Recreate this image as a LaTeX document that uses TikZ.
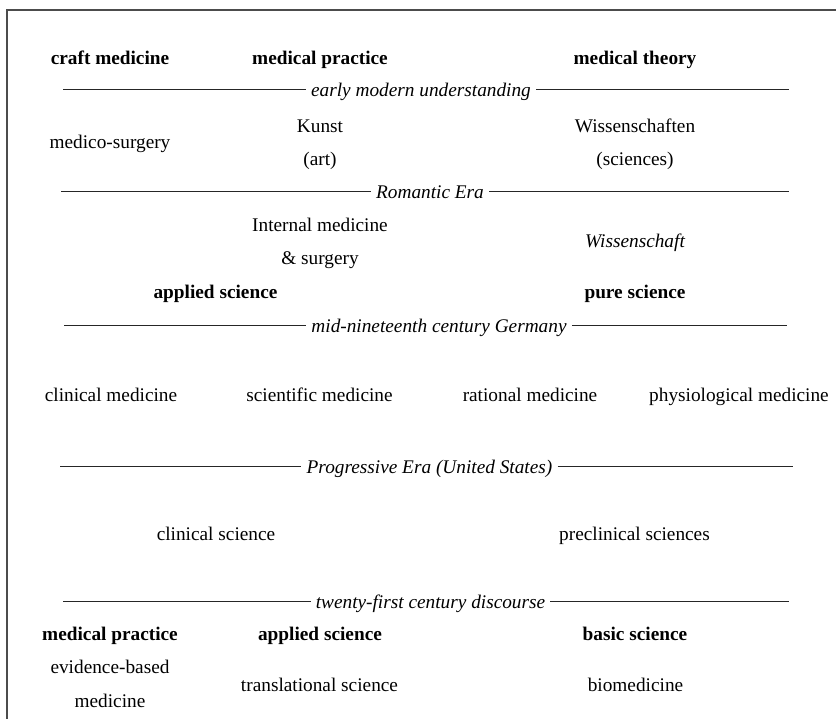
\documentclass[tikz,border=0pt]{standalone}
\usepackage{fontspec}
\setmainfont{Liberation Serif}
\begin{document}
\begin{tikzpicture}[x=1pt,y=-1pt,
  txt/.style={anchor=base,inner sep=0pt,font=\fontsize{19.3}{23}\selectfont},
  hd/.style={txt,font=\fontsize{19.3}{23}\selectfont\bfseries},
  era/.style={anchor=base,inner ysep=0pt,inner xsep=5pt,font=\fontsize{19.3}{23}\selectfont\itshape},
  rule/.style={draw=black!85,line width=1pt},
  frame/.style={draw=black!70,line width=1.6pt}]
\useasboundingbox (0,0) rectangle (836,719);
% frame
\coordinate (ftr) at (836,10);
\coordinate (ftl) at (7,10);
\coordinate (fbl) at (7,719);
\draw[frame] (ftr) -- (ftl) -- (fbl);

% row 1 headers
\node[hd] (h1) at (110,64.5) {craft medicine};
\node[hd] (h2) at (320,64.5) {medical practice};
\node[hd] (h3) at (635,64.5) {medical theory};

% divider 1
\coordinate (d1l) at (63,90);
\coordinate (d1r) at (789,90);
\node[era] (d1) at (421,97) {early modern understanding};
\draw[rule] (d1l) -- (d1l -| d1.west);
\draw[rule] (d1r -| d1.east) -- (d1r);

\node[txt] (a1) at (110,148.5) {medico-surgery};
\node[txt] (a2) at (320,132.5) {Kunst};
\node[txt] (a3) at (320,165.5) {(art)};
\node[txt] (a4) at (635,132.5) {Wissenschaften};
\node[txt] (a5) at (635,165.5) {(sciences)};

% divider 2
\coordinate (d2l) at (61,192);
\coordinate (d2r) at (789,192);
\node[era] (d2) at (430,199) {Romantic Era};
\draw[rule] (d2l) -- (d2l -| d2.west);
\draw[rule] (d2r -| d2.east) -- (d2r);

\node[txt] (b1) at (320,231.5) {Internal medicine};
\node[txt] (b2) at (320,264.5) {\& surgery};
\node[txt,font=\fontsize{19.3}{23}\selectfont\itshape] (b3) at (635,247.5) {Wissenschaft};
\node[hd] (b4) at (215.5,298.5) {applied science};
\node[hd] (b5) at (635,298.5) {pure science};

% divider 3
\coordinate (d3l) at (64,326);
\coordinate (d3r) at (787,326);
\node[era] (d3) at (439,333) {mid-nineteenth century Germany};
\draw[rule] (d3l) -- (d3l -| d3.west);
\draw[rule] (d3r -| d3.east) -- (d3r);

\node[txt] (c1) at (111,401.5) {clinical medicine};
\node[txt] (c2) at (319.5,401.5) {scientific medicine};
\node[txt] (c3) at (530,401.5) {rational medicine};
\node[txt] (c4) at (739,401.5) {physiological medicine};

% divider 4
\coordinate (d4l) at (60,466);
\coordinate (d4r) at (793,466);
\node[era] (d4) at (429.5,473) {Progressive Era (United States)};
\draw[rule] (d4l) -- (d4l -| d4.west);
\draw[rule] (d4r -| d4.east) -- (d4r);

\node[txt] (e1) at (216,540.5) {clinical science};
\node[txt] (e2) at (634.5,540.5) {preclinical sciences};

% divider 5
\coordinate (d5l) at (63,601);
\coordinate (d5r) at (789,601);
\node[era] (d5) at (430.5,608) {twenty-first century discourse};
\draw[rule] (d5l) -- (d5l -| d5.west);
\draw[rule] (d5r -| d5.east) -- (d5r);

\node[hd] (f1) at (110,640.5) {medical practice};
\node[hd] (f2) at (320,640.5) {applied science};
\node[hd] (f3) at (635,640.5) {basic science};
\node[txt] (g1) at (110,673.5) {evidence-based};
\node[txt] (g2) at (110,707.5) {medicine};
\node[txt] (g3) at (319.5,691.5) {translational science};
\node[txt] (g4) at (635.5,691.5) {biomedicine};
\end{tikzpicture}
\end{document}
